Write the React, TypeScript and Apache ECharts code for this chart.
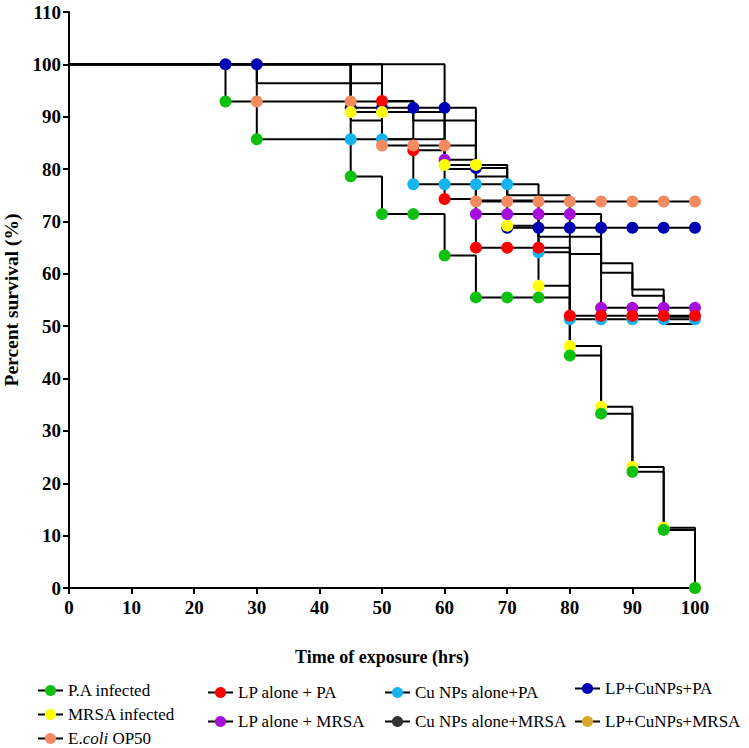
import React, { useEffect, useRef } from "react";
import * as echarts from "echarts";

// time points (hrs)
const times = [0, 25, 30, 45, 50, 55, 60, 65, 70, 75, 80, 85, 90, 95, 100];

// percent survival (null = no symbol at that time)
const paInfected = [100, 92.9, 85.7, 78.6, 71.4, 71.4, 63.5, 55.5, 55.5, 55.5, 44.4, 33.3, 22.2, 11.1, 0];
const mrsaInfected = [100, null, null, 90.9, 90.9, null, 80.8, 80.8, 69.2, 57.7, 46.2, 34.6, 23.1, 11.5, 0];
const ecoliOP50 = [100, null, 92.9, 92.9, 84.5, 84.5, 84.5, 73.8, 73.8, 73.8, 73.8, 73.8, 73.8, 73.8, 73.8];
const lpAlonePA = [100, null, null, null, 93.0, 83.6, 74.3, 65.0, 65.0, 65.0, 52.0, 52.0, 52.0, 52.0, 52.0];
const lpAloneMRSA = [100, null, null, null, null, null, 81.8, 71.4, 71.4, 71.4, 71.4, 53.5, 53.5, 53.5, 53.5];
const cuAlonePA = [100, null, null, 85.7, 85.7, 77.1, 77.1, 77.1, 77.1, 64.1, 51.3, 51.3, 51.3, 51.3, 51.3];
const cuAloneMRSA = [100, null, 96.4, 89.3, 85.7, null, 80.0, 74.0, null, 67.1, 63.8, 60.2, 55.8, 51.8, 51.8];
const lpCuPA = [100, 100, 100, 91.7, 91.7, 91.7, 91.7, 80.2, 68.8, 68.8, 68.8, 68.8, 68.8, 68.8, 68.8];
const lpCuMRSA = [100, null, null, 96.4, 92.9, 89.3, null, 78.6, 75.0, null, 67.1, 62.0, 57.0, 50.4, 50.4];

const xTicks = { min: 0, max: 100, interval: 10 };
const yTicks = { min: 0, max: 110, interval: 10 };

// drawing order: first drawn = bottom
const seriesDefs = [
  { name: "LP+CuNPs+MRSA", color: "#d9a62e", values: lpCuMRSA, dots: false },
  { name: "Cu NPs alone+MRSA", color: "#333333", values: cuAloneMRSA, dots: false },
  { name: "LP+CuNPs+PA", color: "#0000b4", values: lpCuPA, dots: true },
  { name: "Cu NPs alone+PA", color: "#14b4ee", values: cuAlonePA, dots: true },
  { name: "LP alone + MRSA", color: "#a50fdc", values: lpAloneMRSA, dots: true },
  { name: "LP alone + PA", color: "#ff0000", values: lpAlonePA, dots: true },
  { name: "E.coli OP50", color: "#f48a5f", values: ecoliOP50, dots: true },
  { name: "MRSA infected", color: "#ffff00", values: mrsaInfected, dots: true },
  { name: "P.A infected", color: "#10c010", values: paInfected, dots: true },
];

const legendCols = [
  { names: ["P.A infected", "MRSA infected", "E.coli OP50"], left: 37, top: 682, gap: 7 },
  { names: ["LP alone + PA", "LP alone + MRSA"], left: 207, top: 684, gap: 12 },
  { names: ["Cu NPs alone+PA", "Cu NPs alone+MRSA"], left: 384, top: 684, gap: 12 },
  { names: ["LP+CuNPs+PA", "LP+CuNPs+MRSA"], left: 574, top: 680, gap: 16 },
];

const FONT = "Liberation Serif";

export default function App() {
  const ref = useRef<HTMLDivElement>(null);
  useEffect(() => {
    if (!ref.current) return;
    const chart = echarts.init(ref.current, undefined, { renderer: "svg" });
    const series = seriesDefs.map((s) => {
      const pts: any[] = [];
      times.forEach((t, i) => {
        const v = s.values[i];
        if (v !== null && v !== undefined) pts.push([t, v]);
      });
      const data = pts.map((p, i) =>
        i === 0 ? { value: p, symbol: "none" } : { value: p }
      );
      return {
        name: s.name,
        type: "line",
        step: "end",
        data,
        symbol: "circle",
        symbolSize: 12,
        showSymbol: s.dots,
        itemStyle: { color: s.color },
        lineStyle: { color: "#000", width: 2 },
        emphasis: { disabled: true },
      };
    });
    const legends = legendCols.map((c) => ({
      data: c.names,
      orient: "vertical",
      left: c.left,
      top: c.top,
      height: 90,
      padding: 0,
      itemGap: c.gap,
      itemWidth: 25,
      itemHeight: 14,
      selectedMode: false,
      formatter: (n: string) => (n === "E.coli OP50" ? "{n|E.}{i|coli}{n| OP50}" : n),
      textStyle: {
        fontFamily: FONT,
        fontSize: 17,
        color: "#000",
        rich: {
          n: { fontFamily: FONT, fontSize: 17, color: "#000" },
          i: { fontFamily: FONT, fontSize: 17, color: "#000", fontStyle: "italic" },
        },
      },
    }));
    const axisCommon = {
      axisLine: { show: true, lineStyle: { color: "#000", width: 2 } },
      axisTick: { show: true, inside: false, length: 6, lineStyle: { color: "#000", width: 2 } },
      splitLine: { show: false },
      axisLabel: { color: "#000", fontFamily: FONT, fontWeight: "bold", fontSize: 19 },
      nameTextStyle: { color: "#000", fontFamily: FONT, fontWeight: "bold", fontSize: 18 },
    };
    chart.setOption({
      animation: false,
      backgroundColor: "#fff",
      grid: { left: 69, right: 54, top: 12, bottom: 160, containLabel: false, outerBoundsMode: "none" },
      xAxis: {
        type: "value",
        ...xTicks,
        ...axisCommon,
        axisLabel: { ...axisCommon.axisLabel, margin: 10 },
        name: "Time of exposure (hrs)",
        nameLocation: "middle",
        nameGap: 60,
      },
      yAxis: {
        type: "value",
        ...yTicks,
        ...axisCommon,
        axisLabel: { ...axisCommon.axisLabel, margin: 8 },
        name: "Percent survival (%)",
        nameLocation: "middle",
        nameGap: 46,
        nameTextStyle: { ...axisCommon.nameTextStyle, fontSize: 19.5 },
      },
      legend: legends,
      series,
    });
    return () => chart.dispose();
  }, []);
  return <div ref={ref} style={{ width: 749, height: 748, position: "absolute", left: 0, top: 0 }} />;
}
